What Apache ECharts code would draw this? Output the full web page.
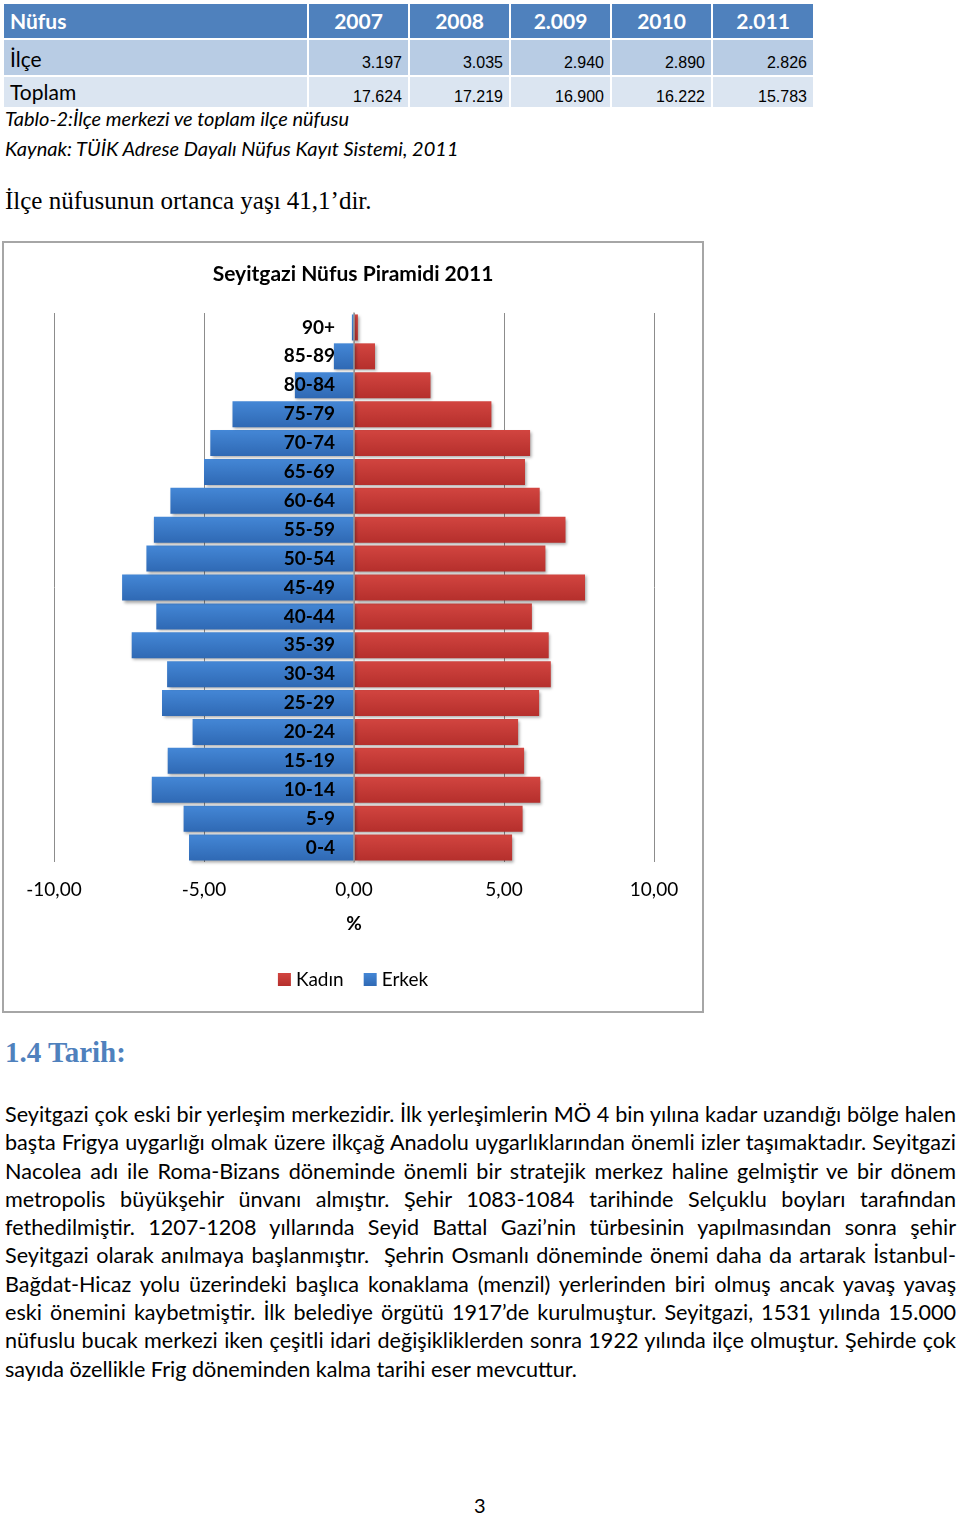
<!DOCTYPE html>
<html>
<head>
<meta charset="utf-8">
<script src="https://cdn.jsdelivr.net/npm/echarts@6/dist/echarts.min.js"></script>
<style>
  html, body { margin:0; padding:0; background:#fff; }
  body { width:960px; height:1516px; position:relative; overflow:hidden; font-family:Lato, "Open Sans", sans-serif; color:#000; }
  .cell { position:absolute; box-sizing:border-box; }
  .hdr { background:#4F81BD; color:#fff; font-weight:bold; font-size:21px; line-height:34px; }
  .r1 { background:#B8CCE4; }
  .r2 { background:#DBE5F1; }
  .num { font-family:"Liberation Sans", Arial, sans-serif; font-size:16px; text-align:right; padding-right:6px; }
  .lbl { font-size:21px; padding-left:6px; }
  .txt { position:absolute; left:5px; white-space:nowrap; }
  #chart { position:absolute; left:4px; top:243px; width:698px; height:768px; outline:2px solid #A6A6A6; }
  #para { position:absolute; left:5px; top:1100px; width:951px; font-size:21.6px; line-height:28.3px; }
  #para span { display:block; text-align:justify; text-align-last:justify; white-space:nowrap; }
  #para span.last { text-align-last:left; }
</style>
</head>
<body>
<div id="table"></div>
<div class="txt" style="top:106px;font-size:20px;font-style:italic;">Tablo-2:İlçe merkezi ve toplam ilçe nüfusu</div>
<div class="txt" style="top:136px;font-size:20px;font-style:italic;">Kaynak: TÜİK Adrese Dayalı Nüfus Kayıt Sistemi, 2011</div>
<div class="txt" style="top:187px;font-size:25px;font-family:'Liberation Serif','Times New Roman',serif;">İlçe nüfusunun ortanca yaşı 41,1’dir.</div>
<div id="chart"></div>
<div class="txt" style="top:1036px;font-size:29px;font-weight:bold;color:#4F81BD;font-family:'Liberation Serif','Times New Roman',serif;">1.4 Tarih:</div>
<div id="para">
<span>Seyitgazi çok eski bir yerleşim merkezidir. İlk yerleşimlerin MÖ 4 bin yılına kadar uzandığı bölge halen</span>
<span>başta Frigya uygarlığı olmak üzere ilkçağ Anadolu uygarlıklarından önemli izler taşımaktadır. Seyitgazi</span>
<span>Nacolea adı ile Roma-Bizans döneminde önemli bir stratejik merkez haline gelmiştir ve bir dönem</span>
<span>metropolis büyükşehir ünvanı almıştır. Şehir 1083-1084 tarihinde Selçuklu boyları tarafından</span>
<span>fethedilmiştir. 1207-1208 yıllarında Seyid Battal Gazi’nin türbesinin yapılmasından sonra şehir</span>
<span>Seyitgazi olarak anılmaya başlanmıştır.&nbsp; Şehrin Osmanlı döneminde önemi daha da artarak İstanbul-</span>
<span>Bağdat-Hicaz yolu üzerindeki başlıca konaklama (menzil) yerlerinden biri olmuş ancak yavaş yavaş</span>
<span>eski önemini kaybetmiştir. İlk belediye örgütü 1917’de kurulmuştur. Seyitgazi, 1531 yılında 15.000</span>
<span>nüfuslu bucak merkezi iken çeşitli idari değişikliklerden sonra 1922 yılında ilçe olmuştur. Şehirde çok</span>
<span class="last">sayıda özellikle Frig döneminden kalma tarihi eser mevcuttur.</span>
</div>
<div class="txt" style="left:474px;top:1493px;font-size:20px;">3</div>
<script>
// ---- table data ----
var tableYears = ['2007', '2008', '2.009', '2010', '2.011'];
var ilceValues = ['3.197', '3.035', '2.940', '2.890', '2.826'];
var toplamValues = ['17.624', '17.219', '16.900', '16.222', '15.783'];

// ---- chart data ----
var ageGroups = ['0-4','5-9','10-14','15-19','20-24','25-29','30-34','35-39','40-44','45-49','50-54','55-59','60-64','65-69','70-74','75-79','80-84','85-89','90+'];
var kadin = [5.27, 5.62, 6.21, 5.67, 5.47, 6.17, 6.56, 6.49, 5.93, 7.70, 6.38, 7.05, 6.19, 5.70, 5.87, 4.58, 2.55, 0.70, 0.13];
var erkek = [-5.50, -5.68, -6.74, -6.21, -5.38, -6.40, -6.23, -7.41, -6.59, -7.73, -6.92, -6.67, -6.12, -5.00, -4.79, -4.05, -1.97, -0.67, -0.07];
var seriesNames = ['Kadın', 'Erkek'];
var chartTitle = 'Seyitgazi Nüfus Piramidi 2011';
var axisName = '%';

// ---- build table ----
(function(){
  var t = document.getElementById('table');
  var colX = [4, 309, 410, 511, 612, 713];
  var colW = [303, 99, 99, 99, 99, 100];
  function add(cls, x, y, w, h, text, style){
    var d = document.createElement('div');
    d.className = 'cell ' + cls;
    d.style.left = x+'px'; d.style.top = y+'px'; d.style.width = w+'px'; d.style.height = h+'px';
    if (style) d.setAttribute('style', d.getAttribute('style') + ';' + style);
    d.textContent = text;
    t.appendChild(d);
  }
  add('hdr', colX[0], 4, colW[0], 34, 'Nüfus', 'padding-left:6px;');
  for (var i=0;i<5;i++) add('hdr', colX[i+1], 4, colW[i+1], 34, tableYears[i], 'text-align:center;');
  add('r1 lbl', colX[0], 40, colW[0], 35, 'İlçe', 'line-height:38px;');
  for (var i=0;i<5;i++) add('r1 num', colX[i+1], 40, colW[i+1], 35, ilceValues[i], 'line-height:46px;');
  add('r2 lbl', colX[0], 77, colW[0], 30, 'Toplam', 'line-height:30px;');
  for (var i=0;i<5;i++) add('r2 num', colX[i+1], 77, colW[i+1], 30, toplamValues[i], 'line-height:40px;');
})();

// ---- chart ----
var chart = echarts.init(document.getElementById('chart'), null, {renderer:'canvas'});
function grad(c1, c2){
  return new echarts.graphic.LinearGradient(0,0,0,1,[{offset:0,color:c1},{offset:1,color:c2}]);
}
var gridLeft = 50, gridRight = 48, chartW = 698;
var option = {
  animation:false,
  title:{ text:chartTitle, left:'center', top:16, textStyle:{ fontFamily:'Lato', fontWeight:'bold', fontSize:21, color:'#000' } },
  legend:{ bottom:17, left:'center', itemWidth:13, itemHeight:13, itemGap:20, icon:'rect',
    textStyle:{ fontFamily:'Lato', fontSize:19, color:'#000' }, data:seriesNames },
  grid:{ left:gridLeft, right:gridRight, top:70, bottom:149, containLabel:false, outerBoundsMode:'none' },
  xAxis:{ type:'value', min:-10, max:10, interval:5,
    name:axisName, nameLocation:'middle', nameGap:52,
    nameTextStyle:{ fontFamily:'Lato', fontWeight:'bold', fontSize:19, color:'#000' },
    axisLine:{ show:false }, axisTick:{ show:false },
    axisLabel:{ margin:18, fontFamily:'Lato', fontSize:19, color:'#000',
      formatter:function(v){ return v.toFixed(2).replace('.', ','); } },
    splitLine:{ show:true, lineStyle:{ color:'#8C8C8C', width:1 } } },
  yAxis:{ type:'category', data:ageGroups, z:10,
    offset: -(chartW - gridLeft - gridRight) / 2,
    axisLine:{ show:true, onZero:false, lineStyle:{ color:'#9A9A9A', width:1.5 } },
    axisTick:{ show:false },
    axisLabel:{ margin:19, fontFamily:'Lato', fontWeight:'bold', fontSize:19, color:'#000' } },
  series:[
    { name:seriesNames[0], type:'bar', data:kadin, barGap:'-100%', barCategoryGap:'10%',
      itemStyle:{ color:grad('#D24540','#B52F2C'), shadowColor:'rgba(0,0,0,0.35)', shadowBlur:3, shadowOffsetX:1.5, shadowOffsetY:2 } },
    { name:seriesNames[1], type:'bar', data:erkek, barGap:'-100%', barCategoryGap:'10%',
      itemStyle:{ color:grad('#4487D6','#2F69B4'), shadowColor:'rgba(0,0,0,0.35)', shadowBlur:3, shadowOffsetX:1.5, shadowOffsetY:2 } }
  ]
};
chart.setOption(option);
</script>
</body>
</html>
